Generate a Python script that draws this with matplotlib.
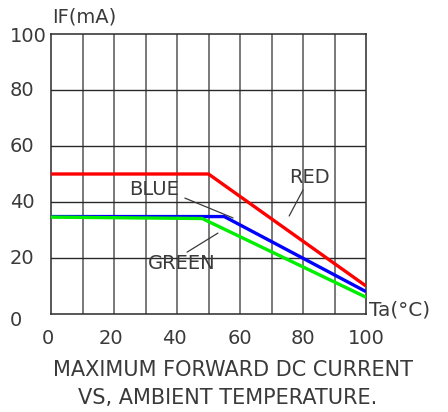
import matplotlib
matplotlib.use("Agg")
import matplotlib.pyplot as plt

# ---- data ----
red_x = [0, 50, 100]
red_y = [50, 50, 10]
blue_x = [0, 55, 100]
blue_y = [34.8, 34.8, 8]
green_x = [0, 48, 100]
green_y = [34.6, 34.1, 6]
x_ticks = [0, 20, 40, 60, 80, 100]
y_ticks = [0, 20, 40, 60, 80, 100]
x_grid = [10, 20, 30, 40, 50, 60, 70, 80, 90]
y_grid = [20, 40, 60, 80]
title_lines = ["MAXIMUM FORWARD DC CURRENT", "VS, AMBIENT TEMPERATURE."]

plt.rcParams['font.family'] = ['DejaVu Sans']
TXT = '#3a3a3a'
HGRID = '#2a2a2a'
VGRID = '#555555'

fig = plt.figure(figsize=(4.48, 4.12), dpi=100)
W, H = 448, 412
L, T, R, B = 51, 34, 366, 314
ax = fig.add_axes([L / W, 1 - B / H, (R - L) / W, (B - T) / H])
ax.set_xlim(0, 100)
ax.set_ylim(0, 100)
ax.set_xticks([])
ax.set_yticks([])
for s in ax.spines.values():
    s.set_color(HGRID)
    s.set_linewidth(1.1)

for xv in x_grid:
    ax.axvline(xv, color=VGRID, lw=1.1, zorder=1)
for yv in y_grid:
    ax.axhline(yv, color=HGRID, lw=1.0, zorder=1)

ax.plot(red_x, red_y, color='#ff0000', lw=2.4, zorder=3, solid_capstyle='butt')
ax.plot(blue_x, blue_y, color='#0000ff', lw=2.4, zorder=3, solid_capstyle='butt')
ax.plot(green_x, green_y, color='#00ee00', lw=2.4, zorder=4, solid_capstyle='butt')

# y tick labels (left aligned at x=10px)
for yv in y_ticks:
    off = -7 if yv == 0 else (-2 if yv == 100 else 0)
    ax.annotate(str(yv), xy=(10, yv), xycoords=('figure pixels', 'data'),
                xytext=(0, off), textcoords='offset pixels',
                ha='left', va='center', fontsize=14, color=TXT,
                annotation_clip=False)

# x tick labels
for xv in x_ticks:
    ax.annotate(str(xv), xy=(xv, 0), xycoords=('data', 'axes fraction'),
                xytext=(-3 if xv < 50 else 0, -24), textcoords='offset pixels',
                ha='center', va='center', fontsize=14, color=TXT,
                annotation_clip=False)

# axis labels
fig.text(52 / W, 1 - 17 / H, "IF(mA)", ha='left', va='center', fontsize=14, color=TXT)
fig.text(369 / W, 1 - 310 / H, "Ta(°C)", ha='left', va='center', fontsize=14.5, color=TXT)

# title
fig.text(233 / W, 1 - 370 / H, title_lines[0], ha='center', va='center', fontsize=15, color=TXT)
fig.text(228 / W, 1 - 398 / H, title_lines[1], ha='center', va='center', fontsize=15, color=TXT)

# series labels with leader lines
lk = dict(arrowstyle='-', color=TXT, lw=0.9, shrinkA=0, shrinkB=0)
ax.text(82.2, 48.6, "RED", ha='center', va='center', fontsize=14, color=TXT, zorder=5)
ax.annotate("", xy=(75.6, 35.0), xytext=(80.0, 44.3), arrowprops=lk)
ax.text(32.7, 44.3, "BLUE", ha='center', va='center', fontsize=14, color=TXT, zorder=5)
ax.annotate("", xy=(57.8, 34.3), xytext=(42.5, 41.4), arrowprops=lk)
ax.text(41.6, 18.2, "GREEN", ha='center', va='center', fontsize=14, color=TXT, zorder=5)
ax.annotate("", xy=(53.0, 28.9), xytext=(43.2, 22.1), arrowprops=lk)

fig.savefig("out.png", dpi=100, facecolor='white')
